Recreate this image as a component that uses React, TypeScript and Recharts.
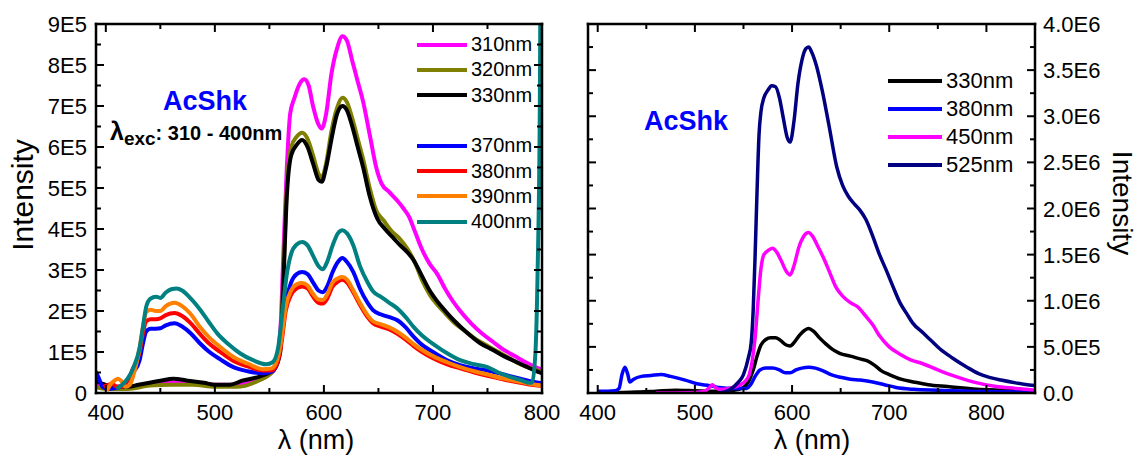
import React from "react";
import { LineChart, Line, XAxis, YAxis, Legend } from "recharts";

const FONT = '"Liberation Sans", Arial, Helvetica, sans-serif';

// ---- left panel: emission for excitation 310 - 400nm, intensity in 1E5 ----
const ex310 = [
  [390, 0.2], [400, 0.15], [420, 0.15], [440, 0.2], [460, 0.25], [480, 0.25], [500, 0.2], [520, 0.2],
  [540, 0.35], [550, 0.45], [555, 0.6], [560, 1.5], [563, 3.5], [566, 5.5], [569, 6.8], [573, 7.2],
  [578, 7.55], [582, 7.65], [586, 7.5], [590, 7.0], [595, 6.55], [598, 6.45], [602, 6.8], [607, 7.8],
  [612, 8.4], [617, 8.7], [621, 8.6], [626, 8.1], [631, 7.6], [636, 7.1], [642, 6.3], [648, 5.5],
  [653, 5.1], [660, 4.9], [667, 4.7], [673, 4.5], [678, 4.3], [684, 3.9], [690, 3.5], [697, 3.15],
  [704, 2.9], [711, 2.55], [718, 2.25], [725, 2.0], [735, 1.7], [745, 1.45], [755, 1.25], [765, 1.05],
  [775, 0.9], [785, 0.75], [795, 0.62], [800, 0.58],
];
const ex320 = [
  [390, 0.15], [400, 0.1], [420, 0.1], [440, 0.18], [460, 0.2], [480, 0.2], [500, 0.15], [520, 0.15],
  [540, 0.3], [550, 0.45], [555, 0.6], [560, 1.2], [563, 3.0], [566, 5.0], [570, 6.0], [575, 6.25],
  [580, 6.35], [585, 6.2], [590, 5.8], [595, 5.35], [598, 5.25], [602, 5.6], [607, 6.4], [612, 6.95],
  [617, 7.2], [621, 7.1], [626, 6.7], [631, 6.2], [636, 5.7], [642, 5.0], [648, 4.45], [655, 4.2],
  [662, 3.95], [670, 3.75], [677, 3.5], [684, 3.15], [690, 2.75], [697, 2.4], [704, 2.15], [711, 1.95],
  [720, 1.7], [730, 1.5], [740, 1.3], [750, 1.15], [760, 1.0], [770, 0.85], [780, 0.7], [790, 0.6],
  [800, 0.52],
];
const ex330 = [
  [390, 0.3], [400, 0.2], [410, 0.15], [420, 0.15], [430, 0.2], [440, 0.25], [450, 0.3], [462, 0.35],
  [475, 0.3], [490, 0.25], [500, 0.2], [514, 0.2], [525, 0.3], [541, 0.4], [550, 0.5], [555, 0.6],
  [560, 1.0], [563, 2.8], [566, 4.8], [570, 5.8], [575, 6.05], [580, 6.17], [585, 6.0], [590, 5.6],
  [595, 5.2], [598, 5.15], [602, 5.5], [607, 6.2], [612, 6.8], [617, 7.0], [621, 6.9], [626, 6.5],
  [631, 6.0], [636, 5.5], [642, 4.8], [649, 4.25], [656, 4.0], [663, 3.8], [670, 3.6], [676, 3.45],
  [682, 3.25], [690, 2.85], [697, 2.5], [705, 2.2], [713, 1.95], [720, 1.75], [730, 1.5], [743, 1.22],
  [755, 1.05], [765, 0.9], [773, 0.8], [785, 0.65], [798, 0.5], [800, 0.48],
];
const ex370 = [
  [390, 0.55], [393, 0.4], [397, 0.15], [402, 0.1], [408, 0.12], [413, 0.15], [418, 0.25], [425, 0.5],
  [431, 0.8], [434, 1.2], [437, 1.5], [441, 1.57], [446, 1.57], [450, 1.58], [455, 1.65], [463, 1.7],
  [470, 1.62], [478, 1.45], [486, 1.22], [495, 1.0], [505, 0.82], [517, 0.63], [530, 0.53], [544, 0.48],
  [552, 0.52], [557, 0.7], [561, 1.3], [565, 2.2], [570, 2.7], [575, 2.9], [580, 2.95], [585, 2.9],
  [590, 2.7], [595, 2.5], [599, 2.46], [603, 2.6], [608, 2.95], [613, 3.2], [617, 3.29], [621, 3.2],
  [627, 2.95], [633, 2.55], [640, 2.2], [645, 2.02], [652, 1.92], [660, 1.85], [667, 1.78], [675, 1.6],
  [682, 1.38], [688, 1.22], [700, 1.0], [713, 0.8], [725, 0.68], [738, 0.6], [750, 0.55], [765, 0.45],
  [780, 0.35], [790, 0.28], [800, 0.24],
];
const ex380 = [
  [398, 0.15], [402, 0.2], [406, 0.22], [410, 0.15], [415, 0.15], [420, 0.3], [425, 0.6], [431, 1.0],
  [434, 1.45], [437, 1.75], [441, 1.8], [446, 1.8], [450, 1.82], [455, 1.9], [463, 1.95], [470, 1.88],
  [478, 1.7], [486, 1.45], [495, 1.2], [505, 1.0], [517, 0.78], [530, 0.65], [544, 0.55], [552, 0.55],
  [557, 0.7], [561, 1.2], [565, 2.0], [570, 2.4], [575, 2.55], [580, 2.6], [585, 2.55], [590, 2.35],
  [595, 2.2], [599, 2.18], [603, 2.3], [608, 2.6], [613, 2.72], [617, 2.76], [621, 2.7], [627, 2.45],
  [633, 2.15], [640, 1.85], [645, 1.7], [652, 1.62], [660, 1.55], [667, 1.45], [675, 1.3], [682, 1.15],
  [690, 1.0], [700, 0.85], [713, 0.7], [725, 0.6], [738, 0.5], [750, 0.42], [765, 0.33], [780, 0.25],
  [790, 0.2], [800, 0.17],
];
const ex390 = [
  [401, 0.05], [404, 0.2], [408, 0.3], [411, 0.35], [414, 0.3], [418, 0.15], [422, 0.2], [426, 0.5],
  [431, 1.1], [434, 1.6], [437, 1.97], [441, 2.03], [446, 2.0], [450, 2.0], [455, 2.12], [463, 2.2],
  [470, 2.12], [478, 1.92], [486, 1.62], [495, 1.35], [505, 1.12], [517, 0.88], [530, 0.72], [544, 0.58],
  [552, 0.6], [557, 0.8], [561, 1.3], [565, 2.1], [570, 2.5], [575, 2.65], [580, 2.68], [585, 2.62],
  [590, 2.42], [595, 2.28], [599, 2.27], [603, 2.4], [608, 2.7], [613, 2.8], [617, 2.83], [621, 2.77],
  [627, 2.5], [633, 2.2], [640, 1.9], [645, 1.75], [652, 1.68], [660, 1.6], [667, 1.5], [675, 1.35],
  [682, 1.2], [690, 1.05], [700, 0.9], [713, 0.75], [725, 0.63], [738, 0.53], [750, 0.45], [765, 0.35],
  [780, 0.27], [790, 0.22], [800, 0.18],
];
const ex400 = [
  [410, 0.1], [415, 0.2], [420, 0.35], [425, 0.6], [431, 1.1], [434, 1.6], [437, 2.1], [441, 2.3],
  [446, 2.35], [450, 2.32], [455, 2.45], [460, 2.53], [465, 2.55], [470, 2.5], [478, 2.3], [486, 2.05],
  [494, 1.75], [502, 1.46], [512, 1.2], [523, 0.97], [535, 0.8], [547, 0.7], [553, 0.75], [558, 1.1],
  [562, 2.0], [566, 2.9], [570, 3.4], [575, 3.62], [580, 3.68], [585, 3.6], [590, 3.35], [595, 3.1],
  [599, 3.02], [603, 3.2], [608, 3.6], [613, 3.9], [617, 3.97], [621, 3.9], [627, 3.6], [633, 3.1],
  [640, 2.7], [645, 2.48], [652, 2.35], [660, 2.2], [667, 2.07], [675, 1.85], [682, 1.62], [690, 1.4],
  [700, 1.2], [713, 0.97], [725, 0.8], [738, 0.7], [750, 0.63], [760, 0.5], [770, 0.4], [780, 0.32],
  [789, 0.25], [791, 0.26], [794, 1.0], [796, 3.0], [798, 7.0], [799, 12.0],
];

// ---- right panel: selected excitations, intensity in 1E6 ----
const em330 = [
  [400, 0.0], [420, 0.005], [440, 0.01], [460, 0.02], [480, 0.03], [500, 0.025], [520, 0.02], [540, 0.03],
  [550, 0.06], [555, 0.12], [560, 0.25], [564, 0.4], [568, 0.52], [573, 0.58], [578, 0.6], [583, 0.6],
  [588, 0.57], [594, 0.52], [598, 0.51], [603, 0.56], [608, 0.63], [613, 0.68], [617, 0.7], [622, 0.67],
  [628, 0.6], [635, 0.53], [642, 0.47], [649, 0.43], [660, 0.4], [670, 0.37], [677, 0.35], [685, 0.3],
  [692, 0.24], [700, 0.2], [712, 0.15], [725, 0.12], [740, 0.09], [760, 0.07], [790, 0.04], [820, 0.03],
  [850, 0.02],
];
const em380 = [
  [400, 0.02], [410, 0.02], [418, 0.025], [422, 0.05], [425, 0.2], [428, 0.28], [431, 0.2], [433, 0.12],
  [437, 0.15], [445, 0.18], [455, 0.19], [465, 0.2], [475, 0.18], [490, 0.14], [502, 0.1], [515, 0.08],
  [525, 0.06], [540, 0.05], [553, 0.05], [558, 0.1], [562, 0.18], [567, 0.25], [573, 0.27], [580, 0.27],
  [587, 0.25], [593, 0.22], [598, 0.22], [604, 0.25], [610, 0.27], [617, 0.28], [624, 0.27], [632, 0.24],
  [640, 0.2], [650, 0.17], [660, 0.15], [670, 0.14], [683, 0.12], [695, 0.09], [707, 0.06], [725, 0.04],
  [750, 0.03], [800, 0.015], [850, 0.01],
];
const em450 = [
  [460, 0.0], [480, 0.0], [500, 0.005], [510, 0.02], [515, 0.06], [518, 0.09], [521, 0.06], [525, 0.04],
  [535, 0.05], [545, 0.08], [552, 0.13], [556, 0.2], [559, 0.35], [562, 0.6], [565, 1.0], [568, 1.35],
  [571, 1.5], [576, 1.55], [580, 1.57], [584, 1.53], [589, 1.43], [594, 1.32], [598, 1.28], [602, 1.38],
  [607, 1.58], [612, 1.7], [617, 1.74], [621, 1.7], [627, 1.58], [633, 1.45], [639, 1.3], [645, 1.15],
  [652, 1.05], [660, 0.98], [668, 0.93], [676, 0.83], [683, 0.74], [690, 0.62], [700, 0.5], [711, 0.42],
  [722, 0.36], [734, 0.32], [750, 0.25], [765, 0.19], [786, 0.12], [810, 0.07], [830, 0.05], [850, 0.03],
];
const em525 = [
  [525, 0.0], [535, 0.03], [545, 0.12], [550, 0.2], [555, 0.38], [558, 0.55], [560, 0.9], [562, 1.5],
  [564, 2.2], [566, 2.8], [568, 3.05], [571, 3.2], [575, 3.28], [579, 3.33], [583, 3.32], [587, 3.2],
  [591, 2.98], [595, 2.77], [598, 2.72], [602, 2.95], [606, 3.35], [610, 3.6], [614, 3.73], [617, 3.75],
  [620, 3.7], [625, 3.55], [631, 3.28], [638, 2.9], [646, 2.45], [652, 2.25], [658, 2.13], [664, 2.05],
  [670, 1.98], [676, 1.88], [683, 1.7], [690, 1.5], [697, 1.33], [704, 1.15], [711, 0.98], [718, 0.86],
  [724, 0.76], [735, 0.65], [745, 0.55], [752, 0.48], [765, 0.38], [780, 0.28], [792, 0.21], [803, 0.17],
  [815, 0.14], [830, 0.11], [850, 0.08],
];

// ---- ticks ----
const xMajor = [400, 500, 600, 700, 800];
const xLabels = ["400", "500", "600", "700", "800"];
const xMinor = [450, 550, 650, 750];

const leftYMajor = [0, 100000, 200000, 300000, 400000, 500000, 600000, 700000, 800000, 900000];
const leftYLabels = ["0", "1E5", "2E5", "3E5", "4E5", "5E5", "6E5", "7E5", "8E5", "9E5"];
const leftYMinor = [50000, 150000, 250000, 350000, 450000, 550000, 650000, 750000, 850000];

const rightYMajor = [0, 500000, 1000000, 1500000, 2000000, 2500000, 3000000, 3500000, 4000000];
const rightYLabels = ["0.0", "5.0E5", "1.0E6", "1.5E6", "2.0E6", "2.5E6", "3.0E6", "3.5E6", "4.0E6"];
const rightYMinor = [250000, 750000, 1250000, 1750000, 2250000, 2750000, 3250000, 3750000];

const leftSeries = [
  { name: "310nm", data: ex310, color: "#ff00ff" },
  { name: "320nm", data: ex320, color: "#808000" },
  { name: "330nm", data: ex330, color: "#000000" },
  { name: "370nm", data: ex370, color: "#0000ff" },
  { name: "380nm", data: ex380, color: "#ff0000" },
  { name: "390nm", data: ex390, color: "#ff8000" },
  { name: "400nm", data: ex400, color: "#008080" },
];
const rightSeries = [
  { name: "330nm", data: em330, color: "#000000" },
  { name: "380nm", data: em380, color: "#0000ff" },
  { name: "450nm", data: em450, color: "#ff00ff" },
  { name: "525nm", data: em525, color: "#000080" },
];

const toPts = (arr: number[][], unit: number) => arr.map(([x, v]) => ({ x, y: v * unit }));
const sorted = (a: number[], b: number[]) => [...a, ...b].sort((p, q) => p - q);

const axisLine = { stroke: "#000", strokeWidth: 2.5, strokeLinecap: "square" as const };

// inward ticks; majors longer and labelled
const makeTick = (side: string, majors: number[], labels?: string[]) => (props: any) => {
  const { x, y, payload } = props;
  const i = majors.indexOf(payload.value);
  const len = i >= 0 ? 8 : 5;
  const stroke = { stroke: "#000", strokeWidth: 2 };
  const txt = { fontFamily: FONT, fontSize: 22, fill: "#000" };
  let line = null;
  let label = null;
  if (side === "bottom") {
    line = <line x1={x} y1={y} x2={x} y2={y - len} {...stroke} />;
    if (labels && i >= 0) label = <text x={x} y={y + 27} textAnchor="middle" {...txt}>{labels[i]}</text>;
  } else if (side === "top") {
    line = <line x1={x} y1={y} x2={x} y2={y + len} {...stroke} />;
  } else if (side === "left") {
    line = <line x1={x} y1={y} x2={x + len} y2={y} {...stroke} />;
    if (labels && i >= 0) label = <text x={x - 9} y={y + 8} textAnchor="end" {...txt}>{labels[i]}</text>;
  } else {
    line = <line x1={x} y1={y} x2={x - len} y2={y} {...stroke} />;
    if (labels && i >= 0) label = <text x={x + 8} y={y + 8} textAnchor="start" {...txt}>{labels[i]}</text>;
  }
  return <g>{line}{label}</g>;
};

const legendContent = (gapAfter: number, rowH: number, lineW: number, thick: number, fontSize: number) =>
  (props: any) => {
    const items = props.payload || [];
    return (
      <div style={{ fontFamily: FONT, fontSize, color: "#000" }}>
        {items.map((it: any, i: number) => (
          <div key={it.value} style={{ display: "flex", alignItems: "center", height: rowH, marginTop: i === gapAfter + 1 ? rowH : 0 }}>
            <span style={{ display: "inline-block", width: lineW, height: thick, background: it.color, marginRight: 4 }} />
            <span>{it.value}</span>
          </div>
        ))}
      </div>
    );
  };

function LeftPanel() {
  const dom = [391, 800];
  const ydom = [0, 900000];
  return (
    <LineChart width={560} height={458} margin={{ top: 23, right: 17, bottom: 0, left: 0 }}>
      <XAxis xAxisId="b" type="number" dataKey="x" domain={dom} allowDataOverflow ticks={sorted(xMajor, xMinor)}
        interval={0} tickSize={0} tickMargin={0} tickLine={false} axisLine={axisLine} height={65}
        tick={makeTick("bottom", xMajor, xLabels)} />
      <XAxis xAxisId="t" orientation="top" type="number" dataKey="x" domain={dom} allowDataOverflow ticks={sorted(xMajor, xMinor)}
        interval={0} tickSize={0} tickMargin={0} tickLine={false} axisLine={axisLine} height={1}
        tick={makeTick("top", xMajor)} />
      <YAxis yAxisId="l" type="number" domain={ydom} allowDataOverflow ticks={sorted(leftYMajor, leftYMinor)}
        interval={0} tickSize={0} tickMargin={0} tickLine={false} axisLine={axisLine} width={96}
        tick={makeTick("left", leftYMajor, leftYLabels)} />
      <YAxis yAxisId="r" orientation="right" type="number" domain={ydom} allowDataOverflow ticks={sorted(leftYMajor, leftYMinor)}
        interval={0} tickSize={0} tickMargin={0} tickLine={false} axisLine={axisLine} width={1}
        tick={makeTick("right", leftYMajor)} />
      {leftSeries.map((s) => (
        <Line key={s.name} xAxisId="b" yAxisId="l" data={toPts(s.data, 1e5)} dataKey="y" name={s.name}
          type="monotone" stroke={s.color} strokeWidth={4} dot={false} isAnimationActive={false} />
      ))}
      <Legend layout="vertical" align="center" verticalAlign="middle"
        wrapperStyle={{ left: 417, top: 32, width: 130, height: 205 }}
        content={legendContent(2, 25.3, 50, 4, 20)} />
    </LineChart>
  );
}

function RightPanel() {
  const dom = [390, 850];
  const ydom = [0, 4000000];
  return (
    <LineChart width={580} height={458} margin={{ top: 23, right: 0, bottom: 0, left: 27 }}>
      <XAxis xAxisId="b" type="number" dataKey="x" domain={dom} allowDataOverflow ticks={sorted(xMajor, xMinor)}
        interval={0} tickSize={0} tickMargin={0} tickLine={false} axisLine={axisLine} height={65}
        tick={makeTick("bottom", xMajor, xLabels)} />
      <XAxis xAxisId="t" orientation="top" type="number" dataKey="x" domain={dom} allowDataOverflow ticks={sorted(xMajor, xMinor)}
        interval={0} tickSize={0} tickMargin={0} tickLine={false} axisLine={axisLine} height={1}
        tick={makeTick("top", xMajor)} />
      <YAxis yAxisId="l" type="number" domain={ydom} allowDataOverflow ticks={sorted(rightYMajor, rightYMinor)}
        interval={0} tickSize={0} tickMargin={0} tickLine={false} axisLine={axisLine} width={1}
        tick={makeTick("left", rightYMajor)} />
      <YAxis yAxisId="r" orientation="right" type="number" domain={ydom} allowDataOverflow ticks={sorted(rightYMajor, rightYMinor)}
        interval={0} tickSize={0} tickMargin={0} tickLine={false} axisLine={axisLine} width={105}
        tick={makeTick("right", rightYMajor, rightYLabels)} />
      {rightSeries.map((s) => (
        <Line key={s.name} xAxisId="b" yAxisId="r" data={toPts(s.data, 1e6)} dataKey="y" name={s.name}
          type="monotone" stroke={s.color} strokeWidth={3.5} dot={false} isAnimationActive={false} />
      ))}
      <Legend layout="vertical" align="center" verticalAlign="middle"
        wrapperStyle={{ left: 328, top: 67, width: 130, height: 115 }}
        content={legendContent(99, 28, 54, 4, 22)} />
    </LineChart>
  );
}

export default function App() {
  return (
    <div style={{ position: "absolute", left: 0, top: 0, width: 1140, height: 458, background: "#fff", overflow: "hidden" }}>
      <div style={{ position: "absolute", left: 0, top: 0 }}>
        <LeftPanel />
      </div>
      <div style={{ position: "absolute", left: 560, top: 0 }}>
        <RightPanel />
      </div>
      <svg width={1140} height={458} style={{ position: "absolute", left: 0, top: 0, pointerEvents: "none" }}
        fontFamily={FONT}>
        <text x={205} y={110} textAnchor="middle" fontSize={27} fontWeight="bold" fill="#0000ff">AcShk</text>
        <text x={686} y={130} textAnchor="middle" fontSize={27} fontWeight="bold" fill="#0000ff">AcShk</text>
        <text x={110} y={140} fontWeight="bold" fill="#000">
          <tspan fontSize={25}>λ</tspan>
          <tspan fontSize={19} dy={5}>exc</tspan>
          <tspan fontSize={20} dy={-5}>: 310 - 400nm</tspan>
        </text>
        <text transform="translate(33,195) rotate(-90)" textAnchor="middle" fontSize={30} fill="#000">Intensity</text>
        <text transform="translate(1113,203) rotate(90)" textAnchor="middle" fontSize={28} fill="#000">Intensity</text>
        <text x={316} y={449} textAnchor="middle" fontSize={27} fill="#000">λ (nm)</text>
        <text x={812} y={449} textAnchor="middle" fontSize={27} fill="#000">λ (nm)</text>
      </svg>
    </div>
  );
}
